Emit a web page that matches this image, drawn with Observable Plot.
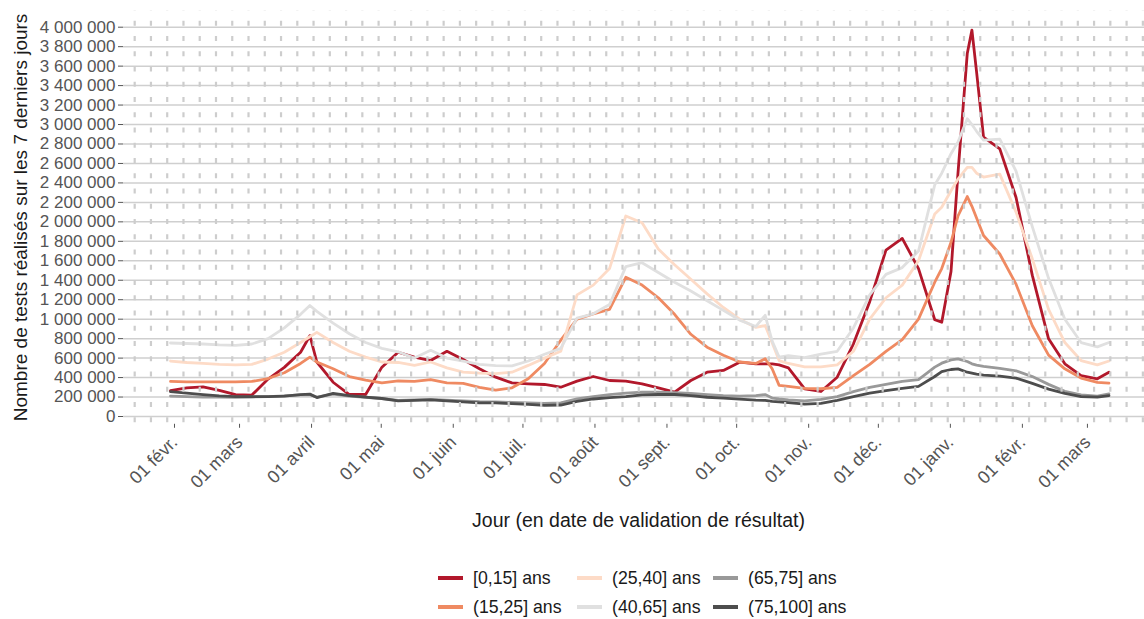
<!DOCTYPE html>
<html><head><meta charset="utf-8">
<script src="https://cdn.jsdelivr.net/npm/d3@7"></script>
<script src="https://cdn.jsdelivr.net/npm/@observablehq/plot@0.6"></script>
<style>
html,body{margin:0;padding:0;background:#fff;overflow:hidden;font-family:"Liberation Sans",Arial,sans-serif;}
#chart{position:relative;width:1144px;height:619px;}
#chart svg{position:absolute;left:0;top:0;}
.legend{position:absolute;left:438px;top:566px;display:grid;grid-template-columns:139px 136px auto;row-gap:5px;font-size:17.7px;color:#1a1a1a;}
.item{display:flex;align-items:center;height:24px;white-space:nowrap;}
.key{width:25px;height:4px;margin-right:10px;}
</style></head><body><div id="chart"></div>
<script>
// ---- data ----
const dates = ["2021-02-01","2021-02-08","2021-02-15","2021-02-22","2021-03-01","2021-03-08","2021-03-15","2021-03-22","2021-03-29","2021-04-02",
"2021-04-05","2021-04-12","2021-04-19","2021-04-26","2021-05-03","2021-05-10","2021-05-17","2021-05-24","2021-05-31","2021-06-07",
"2021-06-14","2021-06-21","2021-06-28","2021-07-05","2021-07-12","2021-07-19","2021-07-26","2021-08-02","2021-08-09","2021-08-16",
"2021-08-23","2021-08-30","2021-09-06","2021-09-13","2021-09-20","2021-09-27","2021-10-04","2021-10-11","2021-10-15","2021-10-18",
"2021-10-21","2021-10-25","2021-11-01","2021-11-08","2021-11-15","2021-11-22","2021-11-29","2021-12-06","2021-12-13","2021-12-20",
"2021-12-27","2021-12-30","2022-01-03","2022-01-06","2022-01-10","2022-01-12","2022-01-14","2022-01-17","2022-01-24","2022-01-31",
"2022-02-07","2022-02-14","2022-02-21","2022-02-28","2022-03-07","2022-03-12"];

const age0_15 = [265000,295000,305000,268000,225000,220000,385000,505000,660000,830000,
560000,352000,226000,226000,507000,660000,610000,575000,670000,585000,
490000,404000,346000,336000,329000,301000,363000,411000,370000,363000,
336000,295000,250000,370000,455000,473000,558000,541000,541000,541000,
530000,500000,285000,257000,404000,747000,1180000,1710000,1830000,1520000,
994000,969000,1490000,2500000,3730000,3970000,3540000,2870000,2750000,2250000,
1450000,798000,541000,421000,387000,455000];

const age15_25 = [360000,355000,355000,355000,355000,360000,390000,450000,545000,610000,
560000,490000,410000,375000,345000,365000,360000,380000,345000,340000,
300000,272000,295000,387000,545000,784000,1000000,1055000,1100000,1430000,
1350000,1220000,1050000,845000,712000,630000,560000,545000,593000,490000,
320000,310000,290000,285000,300000,420000,535000,670000,790000,1000000,
1380000,1520000,1790000,2060000,2260000,2160000,2040000,1860000,1670000,1360000,
932000,630000,490000,395000,350000,342000];

const age25_40 = [570000,555000,545000,535000,530000,535000,590000,660000,760000,820000,
865000,760000,670000,610000,560000,555000,525000,560000,500000,455000,
445000,440000,455000,525000,600000,670000,1250000,1350000,1520000,2060000,
1990000,1720000,1560000,1410000,1260000,1120000,1000000,915000,935000,757000,
575000,545000,510000,510000,530000,670000,1000000,1220000,1350000,1600000,
2080000,2150000,2320000,2440000,2560000,2560000,2500000,2460000,2490000,2100000,
1620000,1100000,760000,575000,530000,570000];

const age40_65 = [755000,750000,745000,735000,730000,745000,800000,910000,1050000,1140000,
1080000,960000,850000,760000,700000,665000,600000,680000,600000,570000,
535000,522000,520000,570000,640000,700000,1010000,1055000,1150000,1540000,
1580000,1480000,1380000,1290000,1190000,1090000,990000,925000,1040000,774000,
610000,625000,605000,640000,670000,910000,1250000,1460000,1530000,1700000,
2380000,2500000,2700000,2820000,3060000,3000000,2930000,2840000,2850000,2520000,
1950000,1420000,1000000,760000,715000,760000];

const age65_75 = [210000,205000,200000,200000,198000,200000,205000,212000,222000,225000,
200000,230000,210000,198000,185000,165000,170000,175000,168000,160000,
152000,150000,145000,140000,135000,140000,180000,205000,225000,240000,
250000,250000,245000,238000,225000,215000,210000,215000,225000,190000,
180000,170000,160000,175000,205000,255000,300000,330000,360000,380000,
507000,548000,582000,593000,565000,541000,527000,514000,495000,470000,
410000,330000,258000,222000,210000,232000];

const age75_100 = [255000,240000,225000,212000,205000,205000,205000,210000,225000,230000,
195000,238000,215000,200000,185000,160000,165000,170000,160000,150000,
140000,140000,132000,125000,115000,118000,155000,180000,195000,205000,
222000,226000,226000,215000,198000,188000,178000,168000,165000,155000,
150000,142000,127000,135000,165000,205000,240000,265000,290000,310000,
411000,462000,483000,490000,455000,445000,435000,425000,415000,395000,
340000,282000,238000,205000,200000,215000];

const groupNames = ["[0,15] ans","(15,25] ans","(25,40] ans","(40,65] ans","(65,75] ans","(75,100] ans"];
const groupColors = ["#b2182b","#ef8a62","#fddbc7","#e0e0e0","#999999","#4d4d4d"];
const groupValues = [age0_15, age15_25, age25_40, age40_65, age65_75, age75_100];

const monthTicks = ["2021-02-01","2021-03-01","2021-04-01","2021-05-01","2021-06-01","2021-07-01","2021-08-01",
"2021-09-01","2021-10-01","2021-11-01","2021-12-01","2022-01-01","2022-02-01","2022-03-01"];
const monthLabels = ["01 févr.","01 mars","01 avril","01 mai","01 juin","01 juil.","01 août",
"01 sept.","01 oct.","01 nov.","01 déc.","01 janv.","01 févr.","01 mars"];
const yTicks = [0,200000,400000,600000,800000,1000000,1200000,1400000,1600000,1800000,2000000,
2200000,2400000,2600000,2800000,3000000,3200000,3400000,3600000,3800000,4000000];

const yTitle = "Nombre de tests réalisés sur les 7 derniers jours";
const xTitle = "Jour (en date de validation de résultat)";

// ---- build ----
const rows = [];
groupValues.forEach((vals, i) => vals.forEach((v, j) => rows.push({date: new Date(dates[j]), value: v, group: groupNames[i]})));

const xDomain = [new Date("2021-01-11T18:26:00Z"), new Date("2022-03-27T07:00:00Z")];
const weekStart = new Date("2021-01-30T14:00:00Z");
const weeks = d3.range(-3, 64).map(k => d3.utcDay.offset(weekStart, 7 * k)).filter(d => d > xDomain[0] && d < xDomain[1]);

const labelByTime = new Map(monthTicks.map((d, i) => [+new Date(d), monthLabels[i]]));
const fmtY = v => d3.format(",")(v).replace(/,/g, " ");

const W = 1144, H = 545;
const plot = Plot.plot({
  width: W, height: H,
  marginLeft: 123, marginRight: 0, marginTop: 10.15, marginBottom: H - 423.79,
  style: {fontFamily: "'Liberation Sans', Arial, sans-serif", background: "transparent"},
  x: {type: "utc", domain: xDomain, axis: null},
  y: {domain: [-80000, 4170000], axis: null},
  color: {domain: groupNames, range: groupColors},
  marks: [
    Plot.ruleY(yTicks, {stroke: "#cfcfcf", strokeWidth: 1.5}),
    Plot.line(rows, {x: "date", y: "value", z: "group", stroke: "group", strokeWidth: 2.8, strokeLinejoin: "round", curve: "linear"}),
    Plot.ruleX(weeks, {stroke: "#cdcdcd", strokeWidth: 2.2, strokeDasharray: "5,10.25", strokeDashoffset: 4.65}),
    Plot.axisY(yTicks, {tickFormat: fmtY, tickSize: 5, tickPadding: 3, fontSize: 17, color: "#555555", label: null}),
    Plot.axisX(monthTicks.map(d => new Date(d)), {tickFormat: d => labelByTime.get(+d), tickRotate: -45, tickSize: 4, tickPadding: 11, dx: 4, fontSize: 18, color: "#555555", label: null}),
    Plot.text([yTitle], {frameAnchor: "left", textAnchor: "middle", dx: -103, rotate: -90, fontSize: 19, fill: "#1a1a1a"}),
    Plot.text([xTitle], {frameAnchor: "bottom", textAnchor: "middle", dx: 4.5, dy: 103, fontSize: 19.5, fill: "#1a1a1a"})
  ]
});
const chart = document.getElementById("chart");
chart.appendChild(plot);

const legend = document.createElement("div");
legend.className = "legend";
const order = [0, 2, 4, 1, 3, 5];
order.forEach(i => {
  const item = document.createElement("div");
  item.className = "item";
  const key = document.createElement("span");
  key.className = "key";
  key.style.background = groupColors[i];
  const lab = document.createElement("span");
  lab.textContent = groupNames[i];
  item.appendChild(key); item.appendChild(lab);
  legend.appendChild(item);
});
chart.appendChild(legend);
</script></body></html>
